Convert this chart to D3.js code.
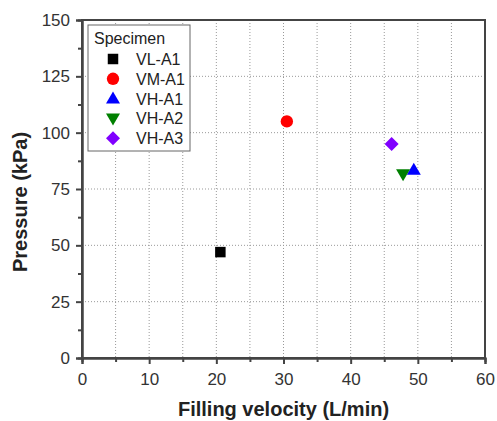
<!DOCTYPE html>
<html>
<head>
<meta charset="utf-8">
<script src="https://cdn.jsdelivr.net/npm/d3@7/dist/d3.min.js"></script>
<style>
body{margin:0;background:#fff;}
text{font-family:"Liberation Sans",Arial,sans-serif;}
</style>
</head>
<body>
<svg id="chart" width="497" height="421"></svg>
<script>
// data
var specimens = ["VL-A1", "VM-A1", "VH-A1", "VH-A2", "VH-A3"];
var velocity = [20.6, 30.5, 49.4, 47.8, 46.1];
var pressure = [47, 105, 83.5, 81.5, 95];
var colors = ["#000000", "#ff0000", "#0000ff", "#008000", "#8000ff"];
var shapes = ["square", "circle", "up", "down", "diamond"];
var xTicks = [0, 10, 20, 30, 40, 50, 60];
var yTicks = [0, 25, 50, 75, 100, 125, 150];

var svg = d3.select("#chart");
var plotL = 82, plotR = 485, plotT = 20, plotB = 358;

var xScale = d3.scaleLinear().domain([0, 60]).range([plotL, plotR]);
var yScale = d3.scaleLinear().domain([0, 150]).range([plotB, plotT]);

// grid
var xGrid = d3.range(5, 60, 5);
svg.append("g").selectAll("line")
	.data(xGrid).enter().append("line")
	.attr("x1", function(d){return xScale(d)}).attr("x2", function(d){return xScale(d)})
	.attr("y1", plotT).attr("y2", plotB)
	.attr("stroke", "#999").attr("stroke-width", 1).attr("stroke-dasharray", "1,2");
svg.append("g").selectAll("line")
	.data(yTicks.slice(1, -1)).enter().append("line")
	.attr("y1", function(d){return yScale(d)}).attr("y2", function(d){return yScale(d)})
	.attr("x1", plotL).attr("x2", plotR)
	.attr("stroke", "#999").attr("stroke-width", 1).attr("stroke-dasharray", "1,2");

// frame
svg.append("rect")
	.attr("x", plotL).attr("y", plotT)
	.attr("width", plotR - plotL).attr("height", plotB - plotT)
	.attr("fill", "none").attr("stroke", "#444").attr("stroke-width", 2);

// axes
svg.append("g")
	.attr("transform", "translate(0," + plotB + ")")
	.call(d3.axisBottom(xScale).tickValues(xTicks).tickSize(6).tickPadding(9));
svg.append("g")
	.attr("transform", "translate(0," + plotB + ")")
	.call(d3.axisBottom(xScale).tickValues(d3.range(5, 60, 10)).tickSize(4).tickFormat(""));
svg.append("g")
	.attr("transform", "translate(" + plotL + ",0)")
	.call(d3.axisLeft(yScale).tickValues(yTicks).tickSize(6).tickPadding(6));
svg.append("g")
	.attr("transform", "translate(" + plotL + ",0)")
	.call(d3.axisLeft(yScale).tickValues(d3.range(12.5, 150, 25)).tickSize(4).tickFormat(""));

svg.selectAll(".domain").attr("stroke", "#444").attr("stroke-width", 2);
svg.selectAll(".tick line").attr("stroke", "#444").attr("stroke-width", 2);
svg.selectAll(".tick text").attr("font-size", 17).attr("fill", "#333")
	.style("font-family", "'Liberation Sans', Arial, sans-serif");

// axis titles
svg.append("text")
	.attr("x", (plotL + plotR) / 2).attr("y", 416)
	.attr("text-anchor", "middle")
	.attr("font-size", 20).attr("font-weight", "bold").attr("fill", "#222")
	.text("Filling velocity (L/min)");
svg.append("text")
	.attr("transform", "translate(27,202) rotate(-90)")
	.attr("text-anchor", "middle")
	.attr("font-size", 20).attr("font-weight", "bold").attr("fill", "#222")
	.text("Pressure (kPa)");

// markers
function symbolFor(s){
	if(s === "square") return d3.symbol().type(d3.symbolSquare).size(110)();
	if(s === "circle") return d3.symbol().type(d3.symbolCircle).size(120)();
	if(s === "diamond") return "M0,-7L7,0L0,7L-7,0Z";
	if(s === "up") return "M0,-7L7,5L-7,5Z";
	return "M0,7L7,-5L-7,-5Z";
}

var dataset = specimens.map(function(d, i){
	return {name: d, x: velocity[i], y: pressure[i], color: colors[i], shape: shapes[i]};
});

svg.selectAll("path.pt")
	.data(dataset).enter().append("path")
	.attr("class", "pt")
	.attr("d", function(d){return symbolFor(d.shape)})
	.attr("transform", function(d){return "translate(" + xScale(d.x) + "," + yScale(d.y) + ")"})
	.attr("fill", function(d){return d.color});

// legend
var legend = svg.append("g");
legend.append("rect")
	.attr("x", 88).attr("y", 25).attr("width", 102).attr("height", 126)
	.attr("fill", "#fff").attr("stroke", "#666").attr("stroke-width", 1);
legend.append("text")
	.attr("x", 94).attr("y", 44)
	.attr("font-size", 16).attr("fill", "#222")
	.text("Specimen");
var items = legend.selectAll("g.item")
	.data(dataset).enter().append("g")
	.attr("class", "item")
	.attr("transform", function(d, i){return "translate(0," + (59 + i * 19.8) + ")"});
items.append("path")
	.attr("d", function(d){return symbolFor(d.shape)})
	.attr("transform", "translate(113,0)")
	.attr("fill", function(d){return d.color});
items.append("text")
	.attr("x", 136).attr("y", 6)
	.attr("font-size", 16).attr("fill", "#222")
	.text(function(d){return d.name});
</script>
</body>
</html>
